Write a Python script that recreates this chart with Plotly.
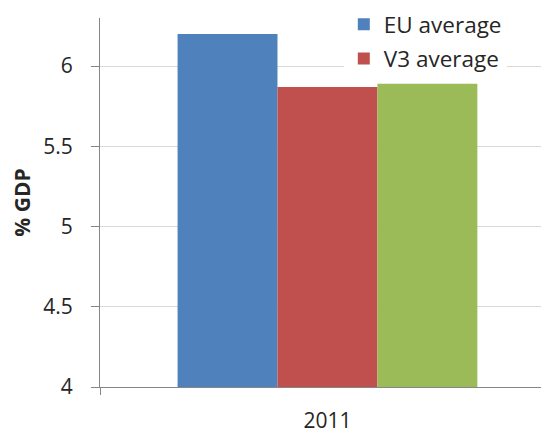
import plotly.graph_objects as go

categories = ["2011"]
series_names = ["EU average", "V3 average", ""]
eu_values = [6.2]
v3_values = [5.87]
third_values = [5.89]
colors = ["#4F81BD", "#C0504D", "#9BBB59"]
y_ticks = [4, 4.5, 5, 5.5, 6]
y_tick_labels = ["4", "4.5", "5", "5.5", "6"]

fig = go.Figure()
for name, vals, col, show in zip(series_names, [eu_values, v3_values, third_values], colors, [True, True, False]):
    fig.add_trace(go.Bar(x=categories, y=vals, name=name, marker=dict(color=col, line=dict(width=0)),
                         showlegend=show, legendgroup=name or "third"))

font_family = "Open Sans, Liberation Sans, sans-serif"
fig.update_layout(
    width=541, height=425,
    margin=dict(l=92, r=0, t=10, b=46, autoexpand=False),
    paper_bgcolor="white", plot_bgcolor="white",
    barmode="group", bargap=0.341, bargroupgap=0,
    font=dict(family=font_family, size=21, color="#262626"),
    legend=dict(x=0.543, y=1.04, xanchor="left", yanchor="top",
                bgcolor="white", font=dict(size=22.5), tracegroupgap=2,
                itemwidth=30),
    xaxis=dict(type="category", range=[-0.5, 0.487], showgrid=False,
               showline=True, linecolor="#868686", linewidth=1,
               ticks="outside", tickson="boundaries", ticklen=7, tickcolor="#868686",
               tickfont=dict(size=21), ticklabelstandoff=15),
    yaxis=dict(range=[4, 6.3], tickvals=y_ticks, ticktext=y_tick_labels,
               showgrid=True, gridcolor="#D9D9D9", gridwidth=1,
               showline=True, linecolor="#868686", linewidth=1,
               ticks="outside", ticklen=8, tickcolor="#868686",
               tickfont=dict(size=21), zeroline=False, ticklabelstandoff=14,
               title=dict(text="<b>% GDP</b>", font=dict(size=21), standoff=13)),
)
fig.write_html("out.html")
